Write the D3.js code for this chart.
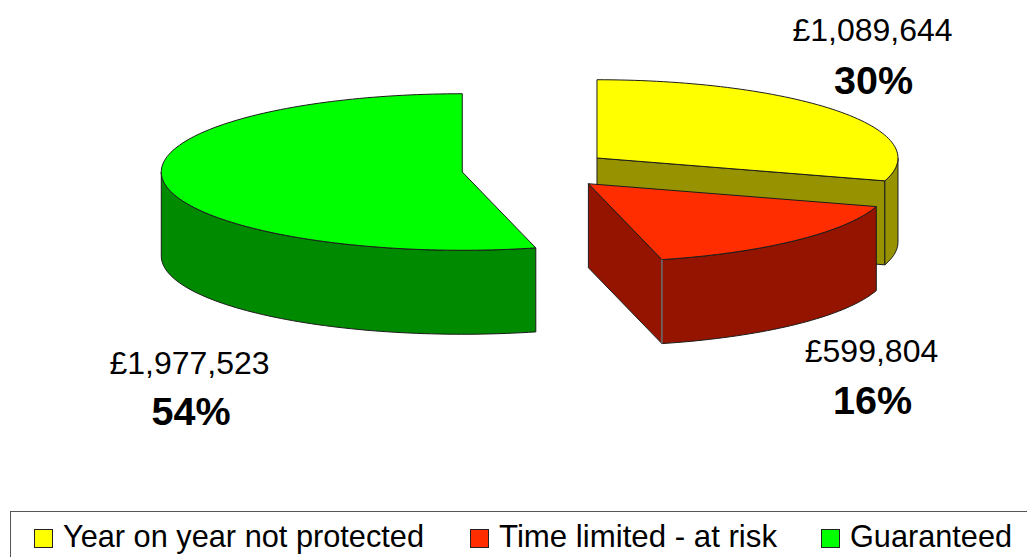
<!DOCTYPE html>
<html>
<head>
<meta charset="utf-8">
<script src="https://cdn.jsdelivr.net/npm/d3@7"></script>
<style>
    html, body { margin: 0; padding: 0; background: #fff; overflow: hidden; }
    text { font-family: "Liberation Sans", Arial, sans-serif; fill: #000; }
</style>
</head>
<body>
<svg id="chart" width="1027" height="557"></svg>
<script>
// Chart data
const categories = ["Year on year not protected", "Time limited - at risk", "Guaranteed"];
const amounts = [1089644, 599804, 1977523];
const amountLabels = ["£1,089,644", "£599,804", "£1,977,523"];
const percentLabels = ["30%", "16%", "54%"];
const topColors = ["#ffff00", "#ff2d00", "#00ff00"];
const sideColors = ["#969200", "#941400", "#008a00"];

const width = 1027,
    height = 557,
    cx = 536.7,
    cy = 169.6,
    rx = 301,
    tilt = 0.26,
    explode = 75,
    depth = 84;

const svg = d3.select("#chart");

// Unit circle -> flattened screen offsets
const xScale = d3.scaleLinear().domain([-1, 1]).range([-rx, rx]);
const yScale = d3.scaleLinear().domain([-1, 1]).range([-rx * tilt, rx * tilt]);

const slices = d3.pie().sort(null).value((d) => d)(amounts);

const line = d3.line();

function center(s) {
    const mid = (s.startAngle + s.endAngle) / 2;
    return [cx + explode * Math.sin(mid), cy - explode * tilt * Math.cos(mid)];
}

function rim(s, a, drop) {
    const [ox, oy] = center(s);
    return [ox + xScale(Math.sin(a)), oy + yScale(-Math.cos(a)) + drop];
}

function angles(a0, a1) {
    const n = Math.max(2, Math.ceil((a1 - a0) * 40));
    return d3.range(n + 1).map((i) => a0 + ((a1 - a0) * i) / n);
}

function addFace(points, fill) {
    svg.append("path")
        .attr("d", line(points) + "Z")
        .attr("fill", fill)
        .attr("stroke", "#1c1c1c")
        .attr("stroke-width", 1)
        .attr("stroke-linejoin", "round");
}

// End wall of a slice, only when it faces the viewer
function drawEndWall(s, i) {
    if (Math.sin(s.endAngle) < 0.001) return;
    const [ox, oy] = center(s);
    const e = s.endAngle;
    addFace([[ox, oy], rim(s, e, 0), rim(s, e, depth), [ox, oy + depth]], sideColors[i]);
}

// Outer curved wall, front half only
function drawOuterWall(s, i) {
    const a0 = Math.max(s.startAngle, Math.PI / 2);
    const a1 = Math.min(s.endAngle, (3 * Math.PI) / 2);
    if (a1 <= a0) return;
    const arc = angles(a0, a1);
    const pts = arc.map((a) => rim(s, a, 0)).concat(arc.reverse().map((a) => rim(s, a, depth)));
    addFace(pts, sideColors[i]);
}

function drawTop(s, i) {
    const pts = [center(s)].concat(angles(s.startAngle, s.endAngle).map((a) => rim(s, a, 0)));
    addFace(pts, topColors[i]);
}

// Back to front: yellow, green, red
for (const i of [0, 2, 1]) {
    drawEndWall(slices[i], i);
    drawOuterWall(slices[i], i);
    drawTop(slices[i], i);
}

// Light seam on the front corner of the red slice
const seamTop = rim(slices[1], slices[1].endAngle, 0);
const seamBottom = rim(slices[1], slices[1].endAngle, depth);
svg.append("path")
    .attr("d", line([seamTop, seamBottom]))
    .attr("stroke", "#999")
    .attr("stroke-width", 1)
    .attr("fill", "none");

// Data labels
const labelPos = [
    { x: 872.5, y1: 41, y2: 93.5, px: 873.5 },
    { x: 871.5, y1: 361.5, y2: 414, px: 872.5 },
    { x: 189.5, y1: 374, y2: 425, px: 191 },
];

svg.selectAll(".amount")
    .data(amountLabels)
    .join("text")
    .attr("class", "amount")
    .attr("x", (d, i) => labelPos[i].x)
    .attr("y", (d, i) => labelPos[i].y1)
    .attr("text-anchor", "middle")
    .attr("font-size", 32)
    .text((d) => d);

svg.selectAll(".percent")
    .data(percentLabels)
    .join("text")
    .attr("class", "percent")
    .attr("x", (d, i) => labelPos[i].px)
    .attr("y", (d, i) => labelPos[i].y2)
    .attr("text-anchor", "middle")
    .attr("font-size", 39.5)
    .attr("font-weight", "bold")
    .text((d) => d);

// Legend
svg.append("rect")
    .attr("x", 10.5)
    .attr("y", 511.5)
    .attr("width", width)
    .attr("height", 60)
    .attr("fill", "#fff")
    .attr("stroke", "#555");

const legendX = [34, 470, 821];
const legendTextWidth = [361, 278, 162];

const legend = svg.selectAll(".legend-item")
    .data(categories)
    .join("g")
    .attr("class", "legend-item")
    .attr("transform", (d, i) => `translate(${legendX[i]},0)`);

legend.append("rect")
    .attr("x", 0.5)
    .attr("y", 529.5)
    .attr("width", 18)
    .attr("height", 18)
    .attr("fill", (d, i) => topColors[i])
    .attr("stroke", "#222");

legend.append("text")
    .attr("x", 29)
    .attr("y", 547)
    .attr("font-size", 32)
    .attr("textLength", (d, i) => legendTextWidth[i])
    .attr("lengthAdjust", "spacingAndGlyphs")
    .text((d) => d);
</script>
</body>
</html>
